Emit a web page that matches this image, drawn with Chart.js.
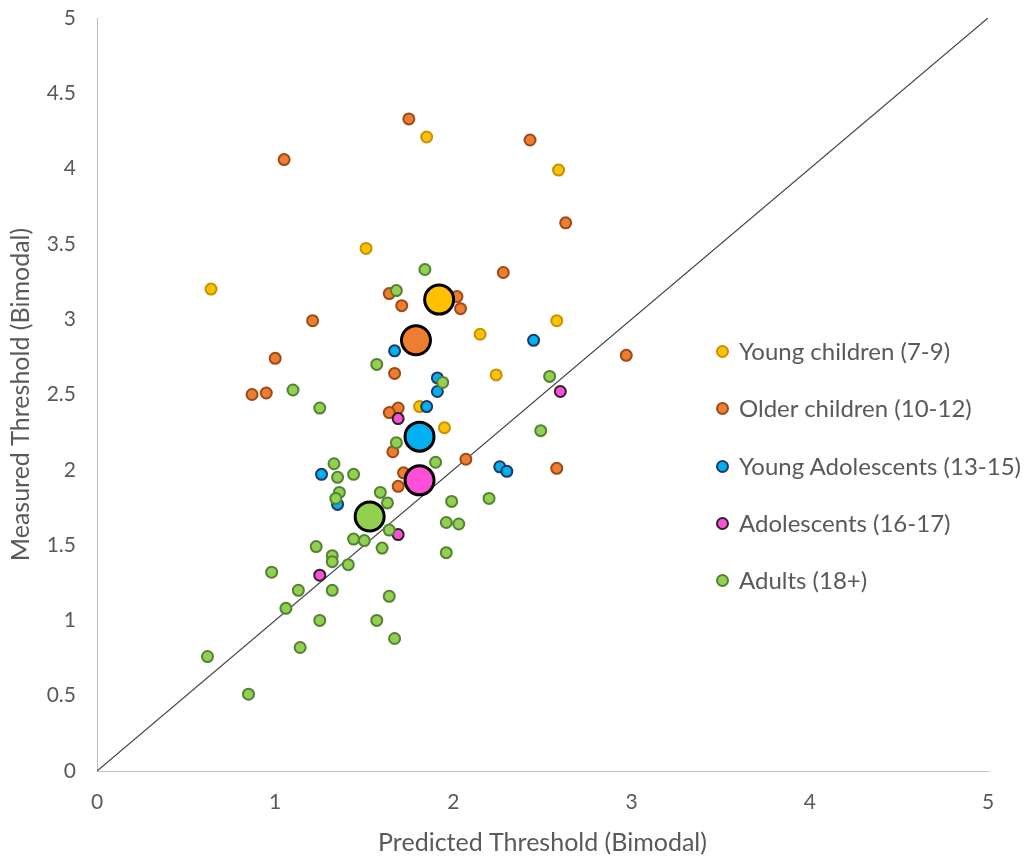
<!DOCTYPE html>
<html>
<head>
<meta charset="utf-8">
<script src="https://cdn.jsdelivr.net/npm/chart.js@4/dist/chart.umd.min.js"></script>
<style>
  html, body { margin: 0; padding: 0; background: #fff; }
  #wrap { position: relative; width: 1029px; height: 858px; }
  canvas { position: absolute; left: 0; top: 0; }
  .lg { position: absolute; left: 716px; font-family: Lato, "Liberation Sans", sans-serif; font-size: 24px; color: #595959; white-space: nowrap; line-height: 28px; }
  .lg span.m { display: inline-block; box-sizing: border-box; width: 13px; height: 13px; border-radius: 50%; border-width: 2px; border-style: solid; vertical-align: middle; margin-right: 10px; position: relative; top: -2px; }
</style>
</head>
<body>
<div id="wrap">
  <canvas id="c" width="1029" height="858"></canvas>
</div>
<script>
// ---- data ----
const seriesNames = ["Young children (7-9)", "Older children (10-12)", "Young Adolescents (13-15)", "Adolescents (16-17)", "Adults (18+)"];

const youngChildrenX = [0.64, 1.51, 1.85, 2.59, 2.15, 2.58, 2.24, 1.95, 1.81];
const youngChildrenY = [3.20, 3.47, 4.21, 3.99, 2.90, 2.99, 2.63, 2.28, 2.42];

const olderChildrenX = [1.05, 1.75, 2.43, 2.63, 2.28, 1.64, 1.71, 1.21, 2.02, 2.04, 2.97, 1.00, 0.87, 0.95, 1.67, 1.69, 1.64, 1.66, 2.07, 2.58, 1.72, 1.69];
const olderChildrenY = [4.06, 4.33, 4.19, 3.64, 3.31, 3.17, 3.09, 2.99, 3.15, 3.07, 2.76, 2.74, 2.50, 2.51, 2.64, 2.41, 2.38, 2.12, 2.07, 2.01, 1.98, 1.89];

const youngAdolX = [1.67, 2.45, 1.91, 1.91, 1.85, 2.26, 2.30, 1.26, 1.35];
const youngAdolY = [2.79, 2.86, 2.61, 2.52, 2.42, 2.02, 1.99, 1.97, 1.77];

const adolX = [1.69, 2.60, 1.69, 1.25];
const adolY = [2.34, 2.52, 1.57, 1.30];

const adultsX = [1.25, 1.68, 1.33, 1.35, 1.44, 1.90, 1.36, 1.34, 1.59, 1.63, 1.99, 2.20, 1.96, 2.03, 1.64, 1.44, 1.50, 1.60, 1.23, 1.32, 1.32, 1.41, 0.98, 1.96, 1.13, 1.32, 1.64, 1.06, 1.25, 1.57, 1.67, 1.14, 0.62, 0.85, 1.10, 1.57, 1.84, 1.68, 1.94, 2.54, 2.49];
const adultsY = [2.41, 2.18, 2.04, 1.95, 1.97, 2.05, 1.85, 1.81, 1.85, 1.78, 1.79, 1.81, 1.65, 1.64, 1.60, 1.54, 1.53, 1.48, 1.49, 1.43, 1.39, 1.37, 1.32, 1.45, 1.20, 1.20, 1.16, 1.08, 1.00, 1.00, 0.88, 0.82, 0.76, 0.51, 2.53, 2.70, 3.33, 3.19, 2.58, 2.62, 2.26];

const groupMeansX = [1.92, 1.79, 1.81, 1.81, 1.53];
const groupMeansY = [3.13, 2.86, 2.22, 1.93, 1.69];

const diagonalX = [0, 5];
const diagonalY = [0, 5];

const xTicks = [0, 1, 2, 3, 4, 5];
const yTicks = [0, 0.5, 1, 1.5, 2, 2.5, 3, 3.5, 4, 4.5, 5];

// ---- styles ----
const fills = ["#FFC000", "#ED7D31", "#00B0F0", "#FF4FD8", "#92D050"];
const borders = ["#C49300", "#9C4A16", "#1F3864", "#262626", "#548235"];
const TXT = "#595959";
const FONT = "Lato, 'Liberation Sans', sans-serif";

const zip = (xs, ys) => xs.map((x, i) => ({ x: x, y: ys[i] }));
const groups = [
  [youngChildrenX, youngChildrenY],
  [olderChildrenX, olderChildrenY],
  [youngAdolX, youngAdolY],
  [adolX, adolY],
  [adultsX, adultsY]
];

const datasets = [];
groups.forEach((g, i) => {
  datasets.push({
    type: 'scatter',
    label: seriesNames[i],
    data: zip(g[0], g[1]),
    backgroundColor: fills[i],
    borderColor: borders[i],
    borderWidth: 2,
    pointRadius: 5.5,
    order: 6 - i
  });
});
groupMeansX.forEach((x, i) => {
  datasets.push({
    type: 'scatter',
    label: seriesNames[i] + ' mean',
    data: [{ x: x, y: groupMeansY[i] }],
    backgroundColor: fills[i],
    borderColor: '#000000',
    borderWidth: 3,
    pointRadius: 14.5,
    order: 0
  });
});
datasets.push({
  type: 'line',
  label: 'diagonal',
  data: zip(diagonalX, diagonalY),
  borderColor: '#404040',
  borderWidth: 1.2,
  pointRadius: 0,
  fill: false,
  order: 20
});

new Chart(document.getElementById('c'), {
  type: 'scatter',
  data: { datasets: datasets },
  options: {
    responsive: false,
    animation: false,
    events: [],
    layout: { padding: { top: 18, right: 41, left: 0, bottom: 0 } },
    plugins: { legend: { display: false }, tooltip: { enabled: false } },
    scales: {
      x: {
        type: 'linear', min: 0, max: 5,
        afterBuildTicks: s => { s.ticks = xTicks.map(v => ({ value: v })); },
        ticks: { color: TXT, font: { family: FONT, size: 21 }, padding: 19, callback: v => String(v) },
        grid: { display: false, drawTicks: false },
        border: { display: true, color: '#BFBFBF', width: 1 },
        title: { display: true, text: 'Predicted Threshold (Bimodal)', color: TXT, font: { family: FONT, size: 25 }, padding: { top: 0, bottom: 0 } },
        afterFit: s => { s.height = 87; s.paddingLeft = 0; s.paddingRight = 0; }
      },
      y: {
        type: 'linear', min: 0, max: 5,
        afterBuildTicks: s => { s.ticks = yTicks.map(v => ({ value: v })); },
        ticks: { color: TXT, font: { family: FONT, size: 21 }, padding: 21, callback: v => String(v) },
        grid: { display: false, drawTicks: false },
        border: { display: true, color: '#BFBFBF', width: 1 },
        title: { display: true, text: 'Measured Threshold (Bimodal)', color: TXT, font: { family: FONT, size: 25 }, padding: { top: 6, bottom: 0 } },
        afterFit: s => { s.width = 97; s.paddingTop = 0; s.paddingBottom = 0; }
      }
    }
  }
});

// ---- legend (HTML text) ----
const legendRowsY = [351, 408, 466, 523, 580];
const wrap = document.getElementById('wrap');
seriesNames.forEach((name, i) => {
  const d = document.createElement('div');
  d.className = 'lg';
  d.style.top = (legendRowsY[i] - 14) + 'px';
  const m = document.createElement('span');
  m.className = 'm';
  m.style.background = fills[i];
  m.style.borderColor = borders[i];
  d.appendChild(m);
  d.appendChild(document.createTextNode(name));
  wrap.appendChild(d);
});
</script>
</body>
</html>
